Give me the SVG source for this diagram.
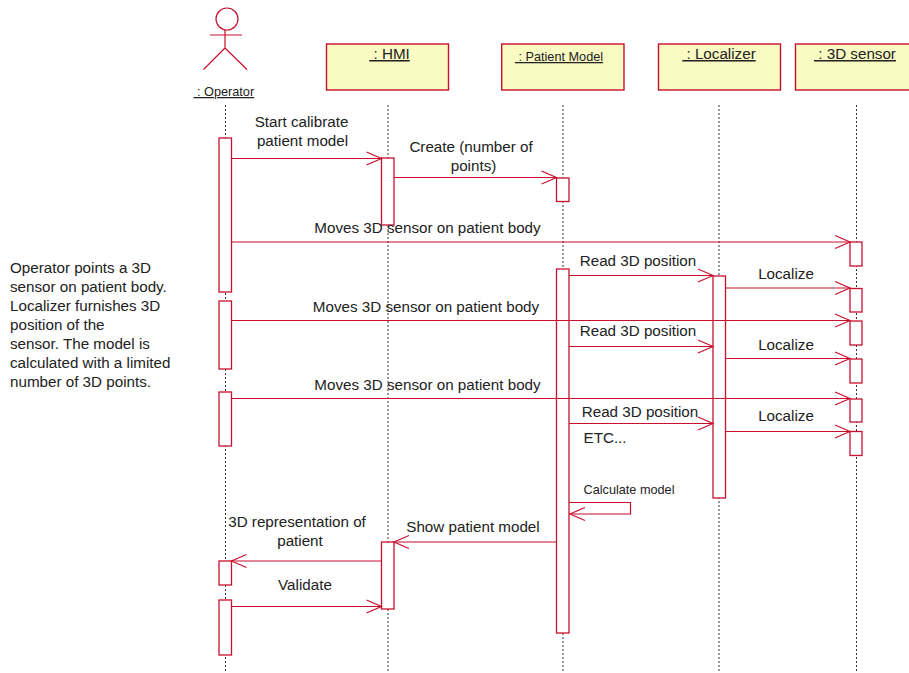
<svg xmlns="http://www.w3.org/2000/svg" width="909" height="673" viewBox="0 0 909 673">
<style>
text{font-family:"Liberation Sans",Arial,sans-serif;font-size:15.2px;fill:#222}
.m{text-anchor:middle}
.u{text-decoration:underline}
.s{font-size:12.7px}
.box{fill:#fafac3;stroke:#c8102e;stroke-width:1.4}
.act{fill:#fff;stroke:#c8102e;stroke-width:1.3}
.life{stroke:#333;stroke-width:1;stroke-dasharray:2 2;fill:none}
.msg{stroke:#c8102e;stroke-width:1.2;fill:none;marker-end:url(#arr)}
.shape{stroke:#c8102e;stroke-width:1.2;fill:none}
</style>
<defs>
<marker id="arr" markerUnits="userSpaceOnUse" markerWidth="18" markerHeight="16" refX="16" refY="8" orient="auto" viewBox="0 0 18 16">
<path d="M1 1.500L16 8L1 14.500" fill="none" stroke="#c8102e" stroke-width="1.200"/>
</marker>
</defs>
<g id="lifelines">
<path class="life" d="M225.500 105V672M388 105V672M563 105V672M719 105V672M856.500 105V672"/>
</g>
<g id="operator">
<circle class="shape" cx="227" cy="19" r="11"/>
<path class="shape" d="M210 35H242M225 30V48M225 48L203.500 69.500M225 48L247 69.500"/>
<text class="u s" x="193.500" y="96" xml:space="preserve"> : Operator</text>
</g>
<g id="hmi">
<rect class="box" x="326.500" y="44" width="122" height="46"/>
<text class="m u" x="389.500" y="59" xml:space="preserve"> : HMI</text>
</g>
<g id="patient-model">
<rect class="box" x="501.700" y="44" width="122.300" height="46"/>
<text class="m u s" x="559" y="61" xml:space="preserve"> : Patient Model</text>
</g>
<g id="localizer">
<rect class="box" x="658.500" y="44" width="122" height="46"/>
<text class="m u" x="719" y="59" xml:space="preserve"> : Localizer</text>
</g>
<g id="sensor">
<rect class="box" x="795.500" y="44" width="122" height="46"/>
<text class="m u" x="855" y="59" xml:space="preserve"> : 3D sensor</text>
</g>
<g id="activations">
<rect class="act" x="219" y="138" width="12.500" height="154"/>
<rect class="act" x="219" y="301" width="12.500" height="68"/>
<rect class="act" x="219" y="392" width="12.500" height="54"/>
<rect class="act" x="219" y="561" width="12.500" height="24"/>
<rect class="act" x="219" y="600" width="12.500" height="55"/>
<rect class="act" x="381.500" y="158" width="12.500" height="67"/>
<rect class="act" x="381.500" y="542" width="12.500" height="67"/>
<rect class="act" x="556.500" y="178" width="12.500" height="23.500"/>
<rect class="act" x="556.500" y="269" width="12.500" height="364"/>
<rect class="act" x="713" y="276" width="12.500" height="222"/>
<rect class="act" x="850" y="242" width="12" height="24"/>
<rect class="act" x="850" y="288.500" width="12" height="23.500"/>
<rect class="act" x="850" y="321" width="12" height="24"/>
<rect class="act" x="850" y="359" width="12" height="24"/>
<rect class="act" x="850" y="399" width="12" height="23"/>
<rect class="act" x="850" y="431.500" width="12" height="24"/>
</g>
<g id="connectors">
<path class="msg" d="M231.500 158.500H381.500"/>
<path class="msg" d="M394 177.500H556.500"/>
<path class="msg" d="M231.500 242H850"/>
<path class="msg" d="M569 275.500H713"/>
<path class="msg" d="M725.500 288H850"/>
<path class="msg" d="M231.500 320.500H850"/>
<path class="msg" d="M569 346.500H713"/>
<path class="msg" d="M725.500 358.500H850"/>
<path class="msg" d="M231.500 398.500H850"/>
<path class="msg" d="M569 423.500H713"/>
<path class="msg" d="M725.500 431.500H850"/>
<path class="msg" d="M569 502.500H630.500V514H570"/>
<path class="msg" d="M556.500 542H394"/>
<path class="msg" d="M381.500 561H231.500"/>
<path class="msg" d="M231.500 606.500H381.500"/>
</g>
<g id="labels">
<text class="m" x="301.500" y="127">Start calibrate</text>
<text class="m" x="302.500" y="146">patient model</text>
<text class="m" x="471" y="152">Create (number of</text>
<text class="m" x="473.500" y="171">points)</text>
<text class="m" x="427.500" y="233">Moves 3D sensor on patient body</text>
<text class="m" x="638" y="266">Read 3D position</text>
<text class="m" x="786" y="279">Localize</text>
<text class="m" x="426" y="312">Moves 3D sensor on patient body</text>
<text class="m" x="638" y="336">Read 3D position</text>
<text class="m" x="786" y="350">Localize</text>
<text class="m" x="427.500" y="390">Moves 3D sensor on patient body</text>
<text class="m" x="640" y="417">Read 3D position</text>
<text class="m" x="786" y="421">Localize</text>
<text x="583.500" y="443">ETC...</text>
<text class="s" x="583.500" y="494">Calculate model</text>
<text class="m" x="473" y="532">Show patient model</text>
<text class="m" x="297" y="527">3D representation of</text>
<text class="m" x="300" y="546">patient</text>
<text class="m" x="305" y="590">Validate</text>
<text x="10" y="273">Operator points a 3D</text>
<text x="10" y="292">sensor on patient body.</text>
<text x="10" y="311">Localizer furnishes 3D</text>
<text x="10" y="330">position of the</text>
<text x="10" y="349">sensor. The model is</text>
<text x="10" y="368">calculated with a limited</text>
<text x="10" y="387">number of 3D points.</text>
</g>
</svg>
